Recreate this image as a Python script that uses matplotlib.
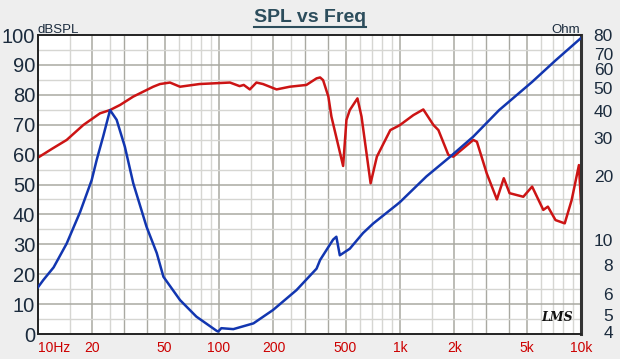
import numpy as np
import matplotlib
matplotlib.use('Agg')
import matplotlib.pyplot as plt
import matplotlib.transforms as mtransforms
from matplotlib.ticker import FixedLocator, NullFormatter
from matplotlib.lines import Line2D

# SPL curve (left axis, dB)
spl_freq = [10, 12, 14.4, 17.8, 22, 25, 28.4, 33.6, 39.8, 43.3, 47.2, 53.6, 60.9, 78,
            115, 130, 137, 148, 161, 175, 208, 246, 304, 346, 362, 376, 402, 418,
            485, 506, 528, 582, 613, 688, 745, 884, 959, 1000, 1185, 1345, 1530,
            1630, 1850, 1970, 2540, 2660, 3015, 3430, 3745, 4030, 4800, 5370,
            6190, 6560, 7230, 8130, 8880, 9740, 10000]
spl_db = [59, 62, 64.9, 69.9, 73.8, 74.9, 76.6, 79.4, 81.6, 82.7, 83.6, 84.1, 82.7, 83.6,
          84.1, 82.9, 83.3, 81.8, 84.1, 83.6, 81.8, 82.7, 83.3, 85.5, 85.8, 84.9, 79.4, 72.7,
          56.2, 71.6, 74.9, 78.8, 72.7, 50.4, 59.3, 68.2, 69.3, 69.9, 73.2, 75.1, 69.9,
          68.2, 59.9, 59.3, 64.9, 64.3, 53.7, 45.0, 52.1, 47.1, 45.9, 49.3,
          41.5, 42.6, 38.1, 37.0, 44.8, 56.5, 43.7]

# impedance curve (right axis, Ohm)
imp_freq = [10, 10.7, 12.2, 14.4, 17.1, 19.8, 21.1, 22.9, 25, 27.2, 30.2, 33.6, 39.8,
            45.3, 49.3, 60.9, 75, 97, 99, 103, 120, 155, 199, 268, 346, 362, 427,
            445, 465, 528, 625, 711, 959, 1000, 1400, 1890, 2540, 3530, 5370, 7230, 10000]
imp_ohm = [6.39, 6.87, 7.8, 9.9, 13.6, 18.7, 22.9, 28.9, 37.7, 34.2, 26.1, 18.1, 11.7,
           9.0, 7.1, 5.62, 4.76, 4.13, 4.1, 4.24, 4.2, 4.45, 5.09, 6.21, 7.7, 8.4, 10.3,
           10.6, 8.8, 9.4, 11.0, 12.1, 14.6, 15.0, 19.4, 23.6, 28.9, 37.7, 50, 62, 77.6]

x_ticks = [10, 20, 50, 100, 200, 500, 1000, 2000, 5000, 10000]
x_labels = ['10Hz', '20', '50', '100', '200', '500', '1k', '2k', '5k', '10k']
ohm_ticks = [4, 5, 6, 8, 10, 20, 30, 40, 50, 60, 70, 80]

plt.rcParams['font.family'] = ['Liberation Sans', 'DejaVu Sans']

fig = plt.figure(figsize=(6.2, 3.59), dpi=100)
fig.patch.set_facecolor('#eeeeee')
ax = fig.add_axes([38/620, 1-334/359, 543/620, 299/359])
ax.set_facecolor('white')

ax.set_xscale('log')
ax.set_xlim(10, 10000)
ax.set_ylim(0, 100)

# grid
dark = '#a9a9a2'
light = '#d6d6d2'
for d in [10, 100, 1000]:
    for m in [1.5, 2.5, 3, 4, 6, 7, 8, 9]:
        ax.axvline(d*m, color=light if m in (1.5, 2.5, 6, 7, 8, 9) else dark, lw=1, zorder=0)
    for m in [1, 2, 5]:
        ax.axvline(d*m, color=dark, lw=1.1, zorder=0)
for v in range(5, 100, 10):
    ax.axhline(v, color=light, lw=1, zorder=0)
for v in range(10, 100, 10):
    ax.axhline(v, color=dark, lw=1.1, zorder=0)

ax.plot(spl_freq, spl_db, color='#cc1414', lw=1.8, zorder=3)

ax.xaxis.set_major_locator(FixedLocator(x_ticks))
ax.xaxis.set_minor_locator(FixedLocator([]))
ax.set_xticklabels(x_labels)
ax.xaxis.set_minor_formatter(NullFormatter())
ax.tick_params(axis='x', length=0, pad=5, labelsize=10, labelcolor='#cc0000')
ax.get_xticklabels()[0].set_horizontalalignment('left')
ax.set_yticks(range(0, 101, 10))
ax.tick_params(axis='y', length=0, pad=2, labelsize=14.5, labelcolor='#1b2b3d')

ax2 = ax.twinx()
ax2.set_yscale('log')
ax2.set_ylim(4, 80)
ax2.plot(imp_freq, imp_ohm, color='#1236b0', lw=1.8, zorder=3)
ax2.yaxis.set_major_locator(FixedLocator(ohm_ticks))
ax2.yaxis.set_minor_locator(FixedLocator([]))
ax2.set_yticklabels([str(t) for t in ohm_ticks])
ax2.tick_params(axis='y', length=0, pad=23, labelsize=12.5, labelcolor='#1b2b3d')
# the original spreads the crowded upper labels a little downwards
nudge = {4: 1.5, 5: -2, 10: 2, 20: -2, 30: -3.5, 40: -5, 50: -4.5, 60: -4, 70: -4}
for t, lab in zip(ohm_ticks, ax2.get_yticklabels()):
    lab.set_horizontalalignment('right')
    if t in nudge:
        lab.set_transform(lab.get_transform() +
                          mtransforms.ScaledTranslation(0, nudge[t]/72, fig.dpi_scale_trans))

for a in (ax, ax2):
    for s in a.spines.values():
        s.set_color('#222222')
        s.set_linewidth(1.2)
ax2.spines['right'].set_linewidth(2.2)
ax2.spines['right'].set_color('#333333')

fig.text(38/620, 1-33/359, 'dBSPL', fontsize=9.5, color='#1b2b3d', va='baseline')
fig.text(580/620, 1-33/359, 'Ohm', fontsize=9.5, color='#1b2b3d', va='baseline', ha='right')
ax.text(0.985, 0.035, 'LMS', transform=ax.transAxes, ha='right', va='bottom',
        fontsize=9, fontstyle='italic', fontweight='bold', family='DejaVu Serif', color='#111111')

title = fig.text(0.5, 1-17/359, 'SPL vs Freq', ha='center', va='center',
                 fontsize=14, fontweight='bold', color='#2c4d5c')
fig.canvas.draw()
bb = title.get_window_extent().transformed(fig.transFigure.inverted())
fig.add_artist(Line2D([bb.x0, bb.x1], [bb.y0 - 0.004, bb.y0 - 0.004],
                      color='#2c4d5c', lw=1.5, transform=fig.transFigure))

fig.savefig('out.png', dpi=100, facecolor=fig.get_facecolor())
